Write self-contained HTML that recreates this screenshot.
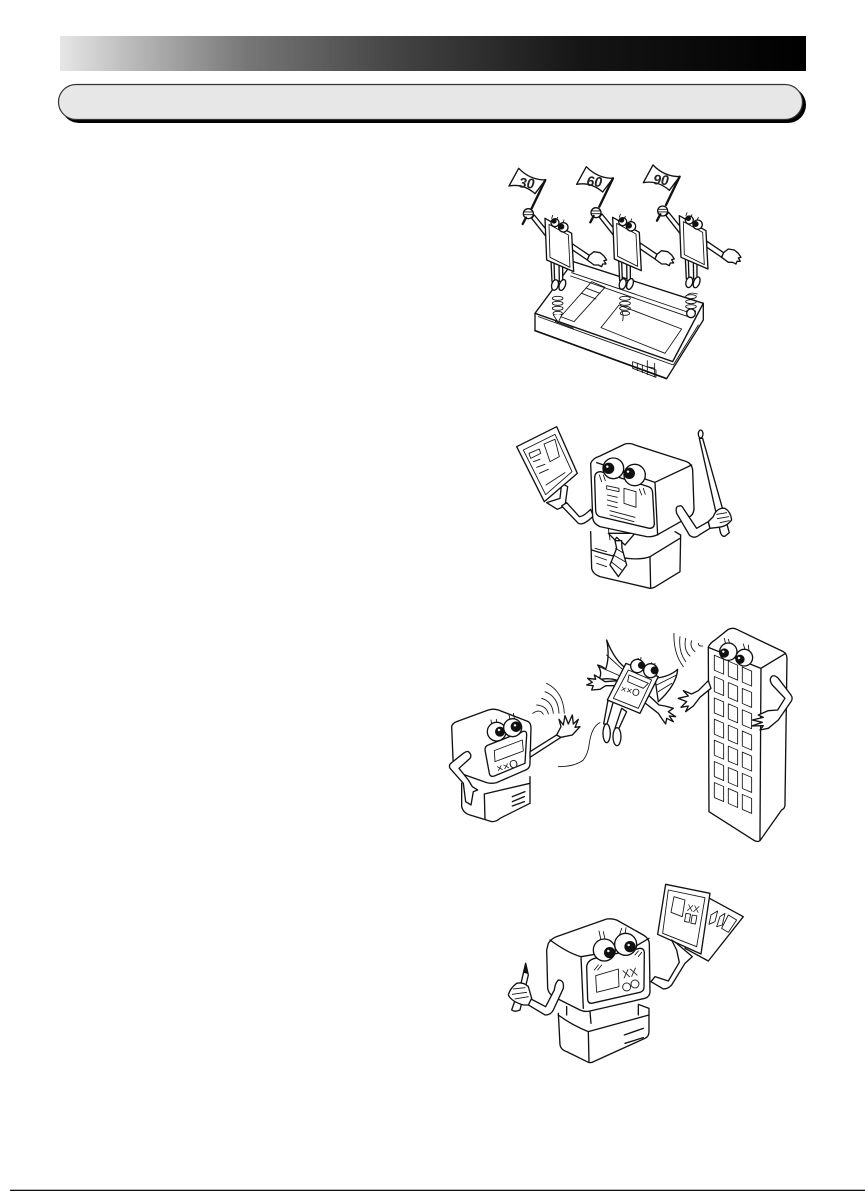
<!DOCTYPE html>
<html><head><meta charset="utf-8"><style>
html,body{margin:0;padding:0;background:#fff}
svg{display:block}
.a path,.a polygon,.a rect,.a circle,.a ellipse,.a line,.a polyline{stroke:#111;stroke-width:4;fill:none;stroke-linejoin:round;stroke-linecap:round}
.a .w{fill:#fff}
.a .k{fill:#111}
.a .f{fill:#fff;stroke:none}
.a .h{stroke:#fff;stroke-width:1.5;fill:#fff}
.a .t{stroke-width:2.6}
.a .b{stroke-width:7}
text{font-family:"Liberation Sans",sans-serif;fill:#222}
</style></head><body>
<svg width="865" height="1191" viewBox="0 0 865 1191" xmlns="http://www.w3.org/2000/svg">
<defs>
<linearGradient id="g" x1="0" x2="1" y1="0" y2="0">
<stop offset="0" stop-color="#e6e6e6"/><stop offset=".1" stop-color="#b8b8b8"/><stop offset=".25" stop-color="#777"/><stop offset=".45" stop-color="#444"/><stop offset=".7" stop-color="#151515"/><stop offset="1" stop-color="#000"/>
</linearGradient>
</defs>
<defs class="a">
<g id="doc">
<path class="w" d="M125,205 L170,262 L178,250 L133,195 Z"/>
<path class="w" d="M248,282 L298,316 L292,330 L245,298 Z"/>
<path class="w" d="M298,316 L312,305 L330,308 L342,318 L350,330 L342,332 L348,342 L338,342 L335,350 L325,345 L312,345 L292,330 Z"/>
<circle class="w" cx="115" cy="191" r="15"/><path class="t" d="M102,186 L128,186 M102,194 L128,194"/>
<path class="w" d="M183,330 L186,395 L194,395 L192,335 Z"/><path class="w" d="M207,340 L208,395 L218,395 L218,345 Z"/>
<ellipse class="w" cx="195" cy="405" rx="10" ry="16" transform="rotate(15 195 405)"/><ellipse class="w" cx="217" cy="405" rx="9" ry="17" transform="rotate(20 217 405)"/>
<polygon class="w" points="165,205 245,250 251,365 170,330"/>
<polygon class="t" points="177,223 235,255 240,352 180,322"/>
<path class="t" d="M185,205 L188,196 M200,210 L203,202 M218,220 L222,210"/>
<circle class="w" cx="195" cy="218" r="12"/><circle class="k" cx="192" cy="213" r="6"/>
<circle class="w" cx="220" cy="232" r="14"/><circle class="k" cx="214" cy="230" r="7"/>
</g>
<g id="spring">
<ellipse class="t" cx="203" cy="445" rx="16" ry="6"/><ellipse class="t" cx="203" cy="460" rx="16" ry="6"/><ellipse class="t" cx="203" cy="475" rx="16" ry="6"/><ellipse class="t" cx="203" cy="490" rx="14" ry="6"/>
</g>
<g id="flag">
<path class="w" d="M86,55 Q120,90 166,90 L135,131 Q100,100 57,108 Z"/>
<line class="b" x1="166" y1="90" x2="125" y2="175"/><line class="b" x1="108" y1="203" x2="98" y2="222"/>
</g>
</defs>
<rect width="865" height="1191" fill="#fff"/>
<rect x="60" y="36" width="746" height="35" fill="url(#g)"/>
<rect x="61" y="87" width="745" height="36" rx="18" fill="#000"/>
<rect x="58.5" y="84.5" width="744" height="35" rx="17.5" fill="#e7e7e7" stroke="#333" stroke-width="1.2"/>
<rect x="10" y="1189.7" width="855" height="1.3" fill="#111"/>

<!-- 1 -->
<g class="a" transform="translate(490,150) scale(.3333)">
<polygon class="w" points="135,490 250,335 640,460 548,635"/>
<polygon class="w" points="135,490 135,542 530,686 640,510 640,460 548,635"/>
<path d="M135,542 L530,686" style="stroke-width:5"/>
<path class="t" d="M145,500 L550,645 L625,525"/>
<polygon class="t" points="333,533 387,465 575,537 525,610"/>
<polygon class="t" points="212,500 305,395 345,412 252,515"/>
<path class="t" d="M275,430 L318,447 M290,415 L330,430 M212,500 L196,515 L250,535"/>
<path class="t" d="M245,368 L610,492 M242,378 L600,502"/>
<polygon class="t" points="428,635 498,660 498,682 428,655"/>
<path class="t" d="M442,640 L442,662 M457,645 L457,668 M472,632 L472,674 M494,640 L494,680 M472,650 L494,655"/>
<use href="#spring"/><use href="#spring" x="202"/><use href="#spring" x="400" y="-5"/>
<path class="t" d="M395,480 Q402,500 398,512 M590,437 Q600,425 622,432"/>
<circle class="w" cx="603" cy="490" r="13"/><path class="w t" d="M190,495 Q200,510 205,517 L215,495"/>

<use href="#doc"/><use href="#doc" x="203" y="-3"/><use href="#doc" x="403" y="-8"/>
<use href="#flag"/><use href="#flag" x="203" y="-5"/><use href="#flag" x="403" y="-10"/>
<text x="110" y="114" font-size="42" font-weight="bold" font-style="italic" text-anchor="middle" transform="rotate(4 110 100)">30</text>
<text x="313" y="109" font-size="42" font-weight="bold" font-style="italic" text-anchor="middle" transform="rotate(4 313 95)">60</text>
<text x="513" y="104" font-size="42" font-weight="bold" font-style="italic" text-anchor="middle" transform="rotate(4 513 90)">90</text>
</g>

<!-- 2 -->
<g class="a" transform="translate(500,420) scale(.3333)">
<path class="w" d="M185,190 L180,235 L140,248 L172,268 L195,258 L203,200 Z"/>
<polygon class="w" points="50,80 170,20 232,160 133,245"/>
<polygon class="t" points="70,90 165,43 216,155 137,224"/>
<polygon class="t" points="87,100 118,87 122,100 92,115"/>
<polygon class="t" points="132,72 165,58 178,110 150,125"/>
<path class="t" d="M100,125 L120,118 M110,142 L135,133 M118,160 L145,148 M138,195 L195,158"/>
<path class="w" d="M185,258 L235,310 Q250,318 280,288 L272,268 Q250,290 238,290 L200,248 Z"/>
<path class="f" d="M272,345 L275,445 Q278,462 300,470 L450,505 Q460,505 470,498 L540,455 L545,345 Z"/>
<path d="M272,335 L275,445 Q278,462 300,470 L450,505 Q460,505 470,498 L540,455 L542,345 L525,335"/>
<path class="t" d="M285,385 L320,395 M285,408 L320,420 M290,430 L320,440"/>
<path d="M275,390 Q400,430 450,410 L540,355 M450,410 L452,505"/>
<path class="t" d="M325,325 L330,360"/>
<path class="w" d="M325,340 L345,360 L350,352 L375,375 L405,340 Z"/>
<polygon class="w" points="345,362 365,362 366,385 380,435 355,470 330,435 350,385"/>
<path class="t" d="M347,385 L368,398 M340,405 L375,425 M333,425 L365,450"/>
<path class="w" d="M272,130 Q278,115 300,108 L375,72 Q392,68 405,75 L560,125 Q576,132 578,150 L582,265 Q582,285 565,292 L480,340 Q462,352 440,350 L300,320 Q278,310 278,290 Z"/>
<path d="M290,128 L465,187 L473,345 M465,187 L575,135"/>
<path d="M302,155 L445,200 Q458,204 458,220 L463,310 Q463,325 448,325 L300,290 Q288,286 287,272 L284,175 Q284,155 302,155 Z"/>
<polygon class="t" points="320,197 357,205 357,215 320,207"/>
<polygon class="t" points="372,205 408,215 408,262 372,250"/>
<path class="t" d="M322,225 L352,232 M322,240 L352,248 M322,255 L352,263 M330,272 L405,292 M330,285 L402,305 M298,165 L305,185 M310,165 L316,182 M418,207 L425,225 M430,205 L436,223"/>
<circle class="w" cx="340" cy="145" r="31"/><circle class="k" cx="326" cy="145" r="15"/><circle class="h" cx="322" cy="140" r="3"/>
<circle class="w" cx="404" cy="165" r="32"/><circle class="k" cx="388" cy="160" r="15"/><circle class="h" cx="384" cy="155" r="3"/>
<path class="w" d="M538,258 Q525,258 530,280 L568,345 Q582,358 598,345 L630,325 L625,305 L590,325 L550,265 Q545,255 538,258 Z"/>
<path class="w" d="M598,55 L662,340 Q668,352 676,348 L688,338 L608,55 Z"/>
<ellipse class="w" cx="602" cy="42" rx="7" ry="12"/>
<path class="w" d="M630,325 L625,305 L640,290 Q650,262 675,265 Q692,275 695,300 Q680,320 655,322 Z"/>
<path class="t" d="M650,283 L680,278 M652,296 L686,290 M660,308 L688,302"/>
</g>

<!-- 3 -->
<g class="a" transform="translate(435,620) scale(.3333)">
<path class="t" d="M293,280 Q315,265 325,283 M305,255 Q335,258 340,282 M320,235 Q352,245 355,280 M330,215 Q370,230 372,280 M335,190 Q385,215 388,280"/>
<path class="f" d="M80,490 L80,560 Q85,580 105,585 L170,605 Q185,605 195,595 L285,550 L285,470 Z"/>
<path d="M80,490 L80,560 Q85,580 105,585 L170,605 Q185,605 195,595 L285,550 L285,470"/>
<path d="M148,522 L150,598 M148,522 L285,490 M232,530 L270,515 M232,545 L268,530 M232,558 L268,545"/>
<path class="w" d="M50,320 Q52,310 65,305 L160,270 Q175,265 190,270 L280,305 Q288,310 288,325 L285,430 Q285,445 272,450 L185,488 Q170,492 155,488 L70,458 Q55,452 55,440 Z"/>
<path d="M160,375 L262,335 Q275,330 275,345 L270,430 L178,468 Q165,472 163,460 L150,390 Q150,378 160,375 Z"/>
<polygon class="t" points="178,392 262,360 265,393 180,425"/>
<text x="188" y="458" font-size="34" transform="rotate(-16 188 458)">××O</text>
<path class="t" d="M168,300 L172,325 M184,298 L186,320 M222,285 L228,310 M235,280 L240,305 M252,343 L262,335"/>
<circle class="w" cx="185" cy="335" r="28"/><circle class="k" cx="195" cy="335" r="13"/><circle class="h" cx="192" cy="330" r="3"/>
<circle class="w" cx="233" cy="323" r="27"/><circle class="k" cx="243" cy="320" r="14"/><circle class="h" cx="240" cy="316" r="3"/>
<path class="w" d="M285,395 L365,345 L378,352 L285,412 Z"/>
<path class="w" d="M365,345 L378,320 L372,298 L385,315 L390,287 L400,312 L412,285 L415,312 L430,298 L420,322 L435,320 L412,345 L378,352 Z"/>
<path class="w" d="M100,395 Q112,405 105,415 L72,445 L100,480 L112,500 L128,510 L115,515 L108,555 L92,545 L85,490 L45,445 Q40,435 50,428 L85,400 Q95,393 100,395 Z"/>
<path class="t" d="M370,440 Q420,440 445,420 Q460,400 463,370 Q470,320 495,308"/>
<path class="w" d="M515,60 Q540,125 580,150 L560,185 Q520,170 490,180 Q505,160 488,135 Q505,140 512,148 Q525,110 515,60 Z"/>
<path class="t" d="M515,105 L570,155 M492,140 L560,170"/>
<path class="w" d="M660,175 Q705,170 728,148 Q725,195 670,245 Z"/>
<path class="t" d="M665,195 L725,165 M670,215 L710,190"/>
<path class="w" d="M520,235 L506,312 L516,312 L535,245 Z"/><path class="w" d="M560,265 L540,325 L552,325 L575,275 Z"/>
<ellipse class="w" cx="515" cy="340" rx="11" ry="28"/><ellipse class="w" cx="546" cy="350" rx="12" ry="27"/>
<path class="w" d="M550,182 L510,185 L490,172 L478,165 L482,178 L458,175 L472,187 L455,195 L475,197 L470,210 L495,208 L512,197 L548,197 Z"/>
<path class="w" d="M640,225 L672,255 L690,258 L715,265 L700,275 L722,290 L703,288 L715,305 L695,295 L692,312 L680,295 L670,280 L625,245 Z"/>
<polygon class="w" points="573,130 670,170 615,280 517,240"/>
<polygon class="t" points="580,150 650,180 610,265 535,235"/>
<polygon class="t" points="582,165 640,190 625,205 578,185"/>
<text x="555" y="215" font-size="30" transform="rotate(15 555 215)">××O</text>
<path class="t" d="M610,115 L603,125 M618,112 L617,123 M650,128 L645,138 M660,130 L658,140"/>
<circle class="w" cx="607" cy="138" r="20"/><circle class="k" cx="620" cy="136" r="9"/>
<circle class="w" cx="647" cy="152" r="21"/><circle class="k" cx="659" cy="151" r="10"/>
<path class="t" d="M745,140 Q715,100 717,40 M752,125 Q730,95 735,50 M765,108 Q745,90 752,55 M780,95 Q763,80 770,62 M803,78 Q790,80 790,70"/>
<path class="w" d="M820,82 Q824,70 840,60 L880,28 Q895,22 905,28 L1045,95 Q1056,102 1056,115 L1050,555 Q1050,565 1040,570 L975,662 Q968,668 955,660 L822,575 Z"/>
<path d="M820,82 L978,145 L1052,100 M978,145 L975,660"/>
<g transform="skewY(23) translate(0,-355)">
<rect class="t" x="838" y="105" width="28" height="45"/><rect class="t" x="880" y="105" width="28" height="45"/><rect class="t" x="922" y="105" width="28" height="45"/>
<rect class="t" x="838" y="169" width="28" height="45"/><rect class="t" x="880" y="169" width="28" height="45"/><rect class="t" x="922" y="169" width="28" height="45"/>
<rect class="t" x="838" y="233" width="28" height="45"/><rect class="t" x="880" y="233" width="28" height="45"/><rect class="t" x="922" y="233" width="28" height="45"/>
<rect class="t" x="838" y="297" width="28" height="45"/><rect class="t" x="880" y="297" width="28" height="45"/><rect class="t" x="922" y="297" width="28" height="45"/>
<rect class="t" x="838" y="360" width="28" height="45"/><rect class="t" x="880" y="360" width="28" height="45"/><rect class="t" x="922" y="360" width="28" height="45"/>
<rect class="t" x="838" y="424" width="28" height="45"/><rect class="t" x="880" y="424" width="28" height="45"/><rect class="t" x="922" y="424" width="28" height="45"/>
<rect class="t" x="838" y="487" width="28" height="45"/><rect class="t" x="880" y="487" width="28" height="45"/><rect class="t" x="922" y="487" width="28" height="45"/>
</g>
<path class="t" d="M868,55 L872,72 M880,58 L886,75 M925,72 L930,88 M940,75 L942,92"/>
<circle class="w" cx="880" cy="95" r="26"/><circle class="k" cx="868" cy="99" r="12"/><circle class="h" cx="865" cy="95" r="3"/>
<circle class="w" cx="928" cy="113" r="25"/><circle class="k" cx="915" cy="118" r="12"/><circle class="h" cx="912" cy="114" r="3"/>
<path class="w" d="M820,182 L790,212 L770,222 L745,212 L760,228 L730,235 L755,245 L738,262 L760,258 L752,275 L775,258 L795,232 L828,205 Z"/>
<path class="w" d="M1012,168 Q1000,178 1012,195 L1050,235 L1028,270 L1000,272 L970,285 L985,292 L952,300 L982,307 L950,318 L985,317 L975,330 L1000,325 L1030,300 L1068,245 Q1075,235 1068,225 L1030,175 Q1020,165 1012,168 Z"/>
</g>

<!-- 4 -->
<g class="a" transform="translate(495,875) scale(.3333)">
<path class="w" d="M640,68 L745,125 L640,258 L570,220 Z"/>
<polygon class="t" points="648,120 668,108 660,140 642,148"/>
<polygon class="t" points="675,125 690,115 682,150 665,155"/>
<polygon class="t" points="700,120 725,135 700,172 680,160"/>
<polygon class="w" points="512,28 645,55 618,237 488,178"/>
<polygon class="t" points="520,45 630,68 605,215 503,175"/>
<polygon class="t" points="537,65 570,75 562,125 528,112"/>
<rect class="t" x="573" y="115" width="14" height="25" transform="rotate(10 573 115)"/><rect class="t" x="592" y="120" width="14" height="25" transform="rotate(10 592 120)"/>
<text x="575" y="107" font-size="28" transform="rotate(10 575 107)">XX</text>
<path class="w" d="M530,195 L545,225 L553,262 L520,318 L480,305 L468,320 L505,342 Q520,342 530,330 L570,265 L592,245 L545,205 Z"/>
<path class="f" d="M190,415 L195,510 Q198,525 215,530 L280,562 Q290,565 300,558 L450,490 Q462,485 462,470 L462,390 L200,390 Z"/>
<path d="M190,415 L195,510 Q198,525 215,530 L280,562 Q290,565 300,558 L450,490 Q462,485 462,470 L462,400 L430,388"/>
<path d="M190,420 Q230,450 280,470 L462,420 M280,470 L282,560"/>
<path d="M388,480 L445,460 M390,505 L445,488 M215,395 L215,420 M285,410 L288,445 M430,392 L430,420"/>
<path class="w" d="M160,205 Q170,190 185,185 L335,132 Q350,130 365,135 L445,180 Q462,190 463,205 L465,350 Q465,365 450,370 L285,408 Q270,412 255,405 L175,365 Q160,355 158,340 L155,225 Z"/>
<path d="M165,195 Q220,235 258,245 L265,400 M258,245 L300,238 M420,215 L462,190"/>
<path d="M300,250 L435,220 Q447,220 448,232 L447,338 Q447,348 435,352 L290,385 Q278,385 278,372 L275,275 Q278,255 300,250 Z"/>
<polygon class="t" points="302,302 370,282 372,335 305,352"/>
<text x="385" y="310" font-size="34" transform="rotate(-12 385 310)">XX</text>
<circle class="t" cx="395" cy="336" r="12"/><circle class="t" cx="420" cy="327" r="12"/>
<path class="t" d="M298,285 L310,270 M308,285 L320,270 M420,240 L430,228 M430,245 L440,232"/>
<path class="t" d="M312,168 L318,195 M325,170 L330,192 M380,160 L372,185 M393,158 L390,178"/>
<circle class="w" cx="328" cy="225" r="33"/><circle class="k" cx="344" cy="233" r="15"/><circle class="h" cx="340" cy="228" r="3"/>
<circle class="w" cx="392" cy="208" r="33"/><circle class="k" cx="405" cy="215" r="15"/><circle class="h" cx="401" cy="210" r="3"/>
<path class="w" d="M190,315 Q180,325 178,345 L152,395 L108,372 L100,390 L150,420 Q168,420 175,405 L205,340 Q208,315 190,315 Z"/>
<path class="w" d="M78,325 L92,265 L100,300 L75,405 Q60,412 50,405 Z"/>
<path class="k t" d="M92,265 L85,292 L97,295 Z"/>
<path class="w" d="M100,390 L110,370 L100,335 Q85,320 65,325 Q45,340 40,360 Q50,380 85,390 Z"/>
<path class="t" d="M55,342 L90,338 M52,358 L95,352 M60,372 L100,365"/>
</g>
</svg>
</body></html>
